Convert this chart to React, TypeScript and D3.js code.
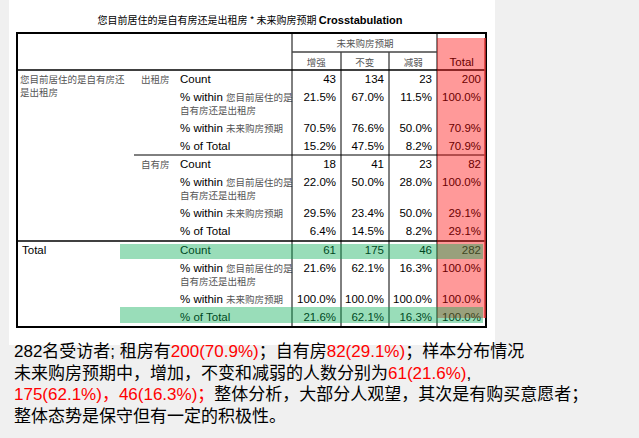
import React from 'react';
import * as d3 from 'd3';

const colHeaders = ['增强', '不变', '减弱', 'Total'];
const groupLabels = ['出租房', '自有房'];
const rowLabels = ['Count', '% within ', '% within ', '% of Total'];
const rowSuffix = ['', '您目前居住的是', '未来购房预期', ''];
const rentValues = [[43, 134, 23, 200], [21.5, 67.0, 11.5, 100.0], [70.5, 76.6, 50.0, 70.9], [15.2, 47.5, 8.2, 70.9]];
const ownValues = [[18, 41, 23, 82], [22.0, 50.0, 28.0, 100.0], [29.5, 23.4, 50.0, 29.1], [6.4, 14.5, 8.2, 29.1]];
const totalValues = [[61, 175, 46, 282], [21.6, 62.1, 16.3, 100.0], [100.0, 100.0, 100.0, 100.0], [21.6, 62.1, 16.3, 100.0]];

const font = '"Liberation Sans Narrow", "Liberation Sans", "Noto Sans CJK SC", sans-serif';
const cjk = '"Noto Sans CJK SC", sans-serif';

const colEdges = [292, 341, 389, 437, 486];
const x = d3.scaleBand<number>().domain([0, 1, 2, 3]).range([292, 486]);
const groupY = d3.scaleOrdinal<number, number>().domain([0, 1, 2]).range([83, 168, 254]);
const rowOff = [0, 18, 49, 67];

const fmt = (v: number, r: number) => (r === 0 ? String(v) : v.toFixed(1) + '%');

const App: React.FC = () => {
  const groups = [rentValues, ownValues, totalValues];
  const colR = (c: number) => colEdges[c + 1] - 5;
  return (
    <svg width={639} height={438} style={{ position: 'absolute', left: 0, top: 0 }}>
      <rect width={639} height={438} fill="#f0f0f0" />
      <rect x={9} y={0} width={486} height={345} fill="#fff" />
      <text x={250} y={24} textAnchor="middle" fontFamily={font} fontSize={11} fontWeight="bold">
        <tspan fontFamily={cjk} fontSize={10} fontWeight="normal">您目前居住的是自有房还是出租房 * 未来购房预期 </tspan>Crosstabulation
      </text>
      <g fontFamily={font} fontSize={11.5}>
        <text x={365} y={47} textAnchor="middle" fill="#555" fontFamily={cjk} fontSize={9.5}>未来购房预期</text>
        {colHeaders.map((h, i) => (
          <text key={h} x={(x(i) ?? 0) + x.bandwidth() / 2} y={66} textAnchor="middle"
            fill={i === 3 ? '#000' : '#555'} fontFamily={i === 3 ? font : cjk} fontSize={i === 3 ? 11.5 : 9.5}>{h}</text>
        ))}
        <text x={20} y={83} fill="#555" fontFamily={cjk} fontSize={9.5}>您目前居住的是自有房还</text>
        <text x={20} y={96} fill="#555" fontFamily={cjk} fontSize={9.5}>是出租房</text>
        <text x={22} y={254}>Total</text>
        {groupLabels.map((g, i) => (
          <text key={g} x={141} y={groupY(i)} fill="#555" fontFamily={cjk} fontSize={9.5}>{g}</text>
        ))}
        {groups.map((vals, gi) => (
          <g key={gi}>
            {rowLabels.map((lab, r) => (
              <g key={r}>
                <text x={180} y={groupY(gi) + rowOff[r]}>
                  {lab}<tspan fill="#555" fontFamily={cjk} fontSize={9.5}>{rowSuffix[r]}</tspan>
                </text>
                {r === 1 && (
                  <text x={180} y={groupY(gi) + rowOff[r] + 13} fill="#555" fontFamily={cjk} fontSize={9.5}>自有房还是出租房</text>
                )}
                {vals[r].map((v, c) => (
                  <text key={c} x={colR(c)} y={groupY(gi) + rowOff[r]} textAnchor="end">{fmt(v, r)}</text>
                ))}
              </g>
            ))}
          </g>
        ))}
      </g>
      <g stroke="#000" fill="none">
        <rect x={17} y={33} width={469} height={294} strokeWidth={2} />
        <line x1={292} x2={292} y1={33} y2={327} />
        <line x1={437} x2={437} y1={33} y2={327} />
        <line x1={341} x2={341} y1={52} y2={327} />
        <line x1={389} x2={389} y1={52} y2={327} />
        <line x1={292} x2={437} y1={52} y2={52} strokeWidth={1.5} stroke="#444" />
        <line x1={17} x2={486} y1={70} y2={70} strokeWidth={1.5} />
        <line x1={134} x2={486} y1={155} y2={155} />
        <line x1={17} x2={486} y1={241} y2={241} strokeWidth={1.5} />
      </g>
      <rect x={437} y={38} width={48} height={280} fill="rgba(255,0,0,0.4)" />
      <line x1={485} x2={485} y1={38} y2={318} stroke="#d33" strokeWidth={1.5} />
      <rect x={120} y={244} width={363} height={15} fill="rgba(0,170,80,0.4)" />
      <rect x={120} y={307} width={363} height={16} fill="rgba(0,170,80,0.4)" />
      <g fontFamily={'"Liberation Sans", "Noto Sans CJK SC", sans-serif'} fontSize={17}>
        <text x={14} y={357}>282名受访者; 租房有<tspan fill="#f00">200(70.9%)</tspan>；自有房<tspan fill="#f00">82(29.1%)</tspan>；样本分布情况</text>
        <text x={14} y={379}>未来购房预期中，增加，不变和减弱的人数分别为<tspan fill="#f00">61(21.6%)</tspan>,</text>
        <text x={14} y={400}><tspan fill="#f00">175(62.1%)，46(16.3%)；</tspan>整体分析，大部分人观望，其次是有购买意愿者；</text>
        <text x={14} y={422}>整体态势是保守但有一定的积极性。</text>
      </g>
    </svg>
  );
};

export default App;
